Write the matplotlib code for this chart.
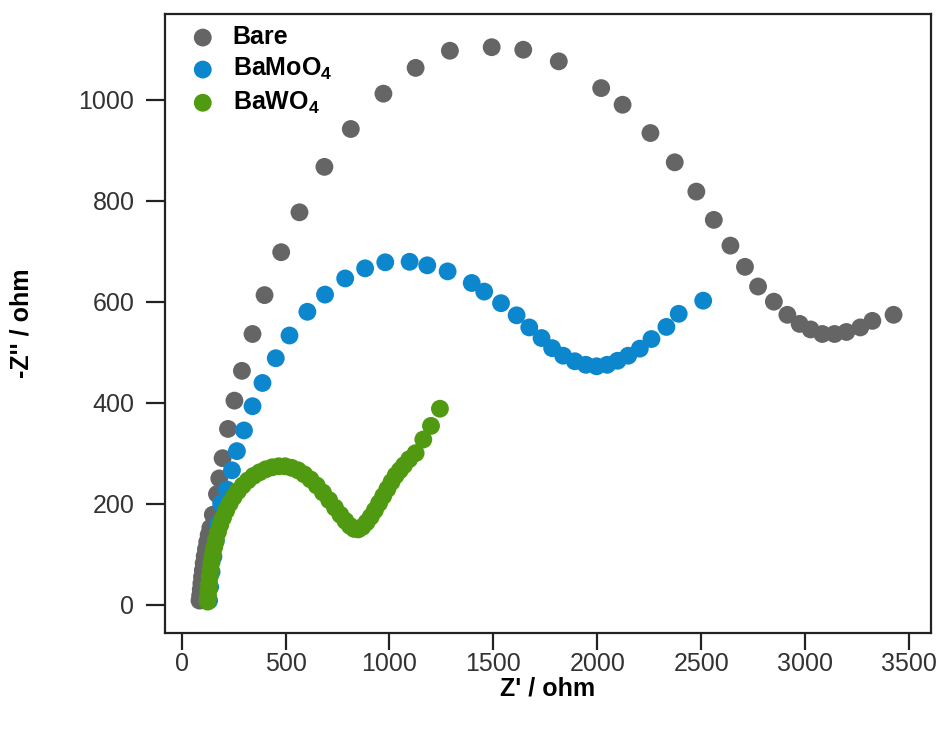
"""Nyquist plot: bare vs. BaMoO4 vs. BaWO4 electrodes."""

import matplotlib

matplotlib.use("Agg")
import matplotlib.pyplot as plt

plt.rcParams["font.family"] = ["Liberation Sans", "DejaVu Sans"]
plt.rcParams["mathtext.fontset"] = "custom"
plt.rcParams["mathtext.rm"] = "Liberation Sans"
plt.rcParams["mathtext.bf"] = "Liberation Sans:bold"

# Z' (ohm), -Z'' (ohm)
bare_x = [86, 89, 92, 95, 98, 102, 106, 111, 117, 123, 130, 138, 150, 170, 181,
          197, 223, 254, 290, 341, 399, 479, 567, 687, 814, 971, 1126, 1291,
          1492, 1644, 1815, 2019, 2122, 2256, 2373, 2477, 2561, 2641, 2711,
          2774, 2850, 2915, 2974, 3027, 3083, 3142, 3199, 3266, 3324, 3426]
bare_y = [8, 18, 30, 42, 55, 68, 82, 96, 110, 124, 138, 152, 178, 219, 250,
          290, 348, 404, 463, 536, 613, 698, 777, 867, 942, 1012, 1063, 1097,
          1104, 1099, 1076, 1023, 990, 934, 876, 818, 762, 711, 669,
          630, 600, 574, 556, 545, 536, 536, 540, 549, 562, 574]

mo_x = [132, 137, 144, 153, 164, 176, 190, 218, 242, 266, 300, 341, 389, 453,
        519, 605, 690, 787, 883, 980, 1097, 1182, 1280, 1396, 1456, 1537, 1612,
        1673, 1732, 1783, 1836, 1892, 1945, 1997, 2048, 2098, 2149, 2205, 2261,
        2333, 2392, 2510]
mo_y = [8, 35, 65, 95, 125, 160, 200, 228, 266, 304, 345, 393, 439, 488,
        533, 580, 614, 646, 666, 678, 679, 672, 660, 637, 620, 597, 573,
        549, 528, 508, 493, 482, 475, 472, 475, 483, 493, 507, 526,
        550, 576, 602]

w_x = [125, 127, 129, 132, 135, 139, 144, 150, 157, 165, 175, 186, 199, 214,
       231, 250, 271, 294, 319, 346, 375, 405, 436, 467, 498, 529, 560, 590,
       620, 650, 680, 710, 738, 764, 788, 810, 830, 850, 870, 890, 910, 930,
       950, 970, 990, 1010, 1030, 1050, 1070, 1095, 1126, 1163, 1200, 1243]
w_y = [6, 16, 28, 41, 55, 69, 84, 99, 114, 129, 144, 158, 172, 186,
       200, 213, 225, 236, 246, 255, 262, 268, 272, 274, 274, 271, 266, 258,
       248, 236, 222, 207, 192, 178, 166, 156, 150, 149, 154, 163, 174, 187,
       201, 215, 229, 243, 256, 266, 276, 288, 300, 327, 354, 388]

series = [
    (bare_x, bare_y, "Bare", "#656565"),
    (mo_x, mo_y, r"BaMoO$_\mathbf{4}$", "#0C87CD"),
    (w_x, w_y, r"BaWO$_\mathbf{4}$", "#4F9A10"),
]

fig = plt.figure(figsize=(9.43, 7.30), dpi=100)
ax = fig.add_axes([0.175, 0.133, 0.812, 0.848])

for x, y, label, color in series:
    ax.scatter(x, y, s=165, color=color, edgecolors="none", label=label)

ax.set_xlim(-80, 3605)
ax.set_ylim(-56, 1170)
ax.set_xticks(range(0, 3501, 500))
ax.set_yticks(range(0, 1001, 200))

for side in ["left", "bottom", "top", "right"]:
    ax.spines[side].set_linewidth(1.6)
    ax.spines[side].set_color("#222222")
ax.tick_params(axis="both", direction="out", width=1.6, color="#222222",
               labelsize=18, labelcolor="#333333")
ax.tick_params(axis="x", length=12, pad=2)
ax.tick_params(axis="y", length=14, pad=8)

ax.set_xlabel("Z' / ohm", fontsize=18, fontweight="bold", labelpad=0)
ax.set_ylabel("-Z'' / ohm", fontsize=18, fontweight="bold")
ax.yaxis.set_label_coords(-0.172, 0.5)

leg = ax.legend(loc="upper left", bbox_to_anchor=(0.015, 1.0), frameon=False,
                fontsize=18, handletextpad=0.6, labelspacing=0.28,
                borderaxespad=0.05, handlelength=1.2)
for text in leg.get_texts():
    text.set_fontweight("bold")

fig.savefig("out.png", dpi=100)
